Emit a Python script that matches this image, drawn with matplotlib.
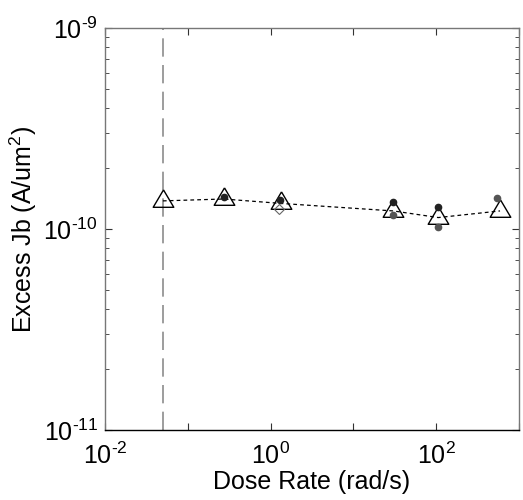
import matplotlib
matplotlib.use("Agg")
import matplotlib.pyplot as plt
import numpy as np
from matplotlib.ticker import FixedLocator, NullFormatter, LogLocator

plt.rcParams['font.family'] = ['Liberation Sans', 'DejaVu Sans']
plt.rcParams['mathtext.fontset'] = 'custom'
plt.rcParams['mathtext.rm'] = 'Liberation Sans'
plt.rcParams['mathtext.it'] = 'Liberation Sans'

# Data
tri_x = [0.05, 0.27, 1.35, 30.3, 106, 590]
tri_y = [1.38e-10, 1.41e-10, 1.34e-10, 1.23e-10, 1.14e-10, 1.23e-10]

dark_x = [0.27, 1.29, 30.3, 106]
dark_y = [1.44e-10, 1.39e-10, 1.37e-10, 1.28e-10]

gray_x = [30.0, 106, 547]
gray_y = [1.18e-10, 1.02e-10, 1.43e-10]

diam_x = [1.25]
diam_y = [1.26e-10]

vline_x = 0.05

xlim = (1e-2, 1e3)
ylim = (1e-11, 1e-9)
xticks = [1e-2, 1e-1, 1e0, 1e1, 1e2, 1e3]
xtick_labels = ['$\\mathregular{10^{\\text{-}2}}$', '', '$\\mathregular{10^{0}}$', '',
                '$\\mathregular{10^{2}}$', '']
yticks = [1e-11, 1e-10, 1e-9]
ytick_labels = ['$\\mathregular{10^{\\text{-}11}}$', '$\\mathregular{10^{\\text{-}10}}$',
                '$\\mathregular{10^{\\text{-}9}}$']

fig = plt.figure(figsize=(5.23, 5.00), dpi=100)
ax = fig.add_axes([105/523, 70/500, 414/523, 402/500])
ax.set_xscale('log')
ax.set_yscale('log')

ax.axvline(vline_x, color='#8c8c8c', lw=1.2, dashes=(11, 5))

ax.plot(tri_x, tri_y, color='black', lw=0.9, dashes=(3, 2.5), zorder=2)

# triangle marker with centroid at the data point, slightly wider than tall
tri_verts = [(0, 11.6), (-10.3, -5.8), (10.3, -5.8), (0, 11.6)]
ax.plot(tri_x, tri_y, linestyle='none', marker=tri_verts, markersize=16.7,
        markerfacecolor='none', markeredgecolor='black', markeredgewidth=1.0, zorder=3)

ax.plot(dark_x, dark_y, linestyle='none', marker='o', markersize=4.5,
        markerfacecolor='#222222', markeredgecolor='#222222', zorder=4)
ax.plot(gray_x, gray_y, linestyle='none', marker='o', markersize=4.5,
        markerfacecolor='#555555', markeredgecolor='#555555', zorder=4)
ax.plot(diam_x, diam_y, linestyle='none', marker='D', markersize=5,
        markerfacecolor='none', markeredgecolor='#666666', markeredgewidth=0.8, zorder=4)

ax.set_xlim(*xlim)
ax.set_ylim(*ylim)

ax.xaxis.set_major_locator(FixedLocator(xticks))
ax.set_xticklabels(xtick_labels)
ax.xaxis.set_minor_locator(FixedLocator([]))
ax.yaxis.set_major_locator(FixedLocator(yticks))
ax.set_yticklabels(ytick_labels)
ax.yaxis.set_minor_locator(LogLocator(base=10, subs=np.arange(2, 10)))
ax.yaxis.set_minor_formatter(NullFormatter())

ax.tick_params(which='both', direction='in', top=True, right=True, labelsize=18,
               color='#333333', labelcolor='black')
ax.tick_params(which='major', length=5, width=0.8, pad=5)
ax.tick_params(which='minor', length=3, width=0.6)
ax.tick_params(axis='x', which='major', pad=9)

for s in ['left', 'top', 'right']:
    ax.spines[s].set_color('#777777')
ax.spines['bottom'].set_color('black')
for s in ax.spines.values():
    s.set_linewidth(1.0)

ax.set_xlabel('Dose Rate (rad/s)', fontsize=18, labelpad=1)
ax.set_ylabel('Excess Jb (A/um$^\\mathregular{2}$)', fontsize=18, labelpad=3)

fig.savefig('out.png', dpi=100)
